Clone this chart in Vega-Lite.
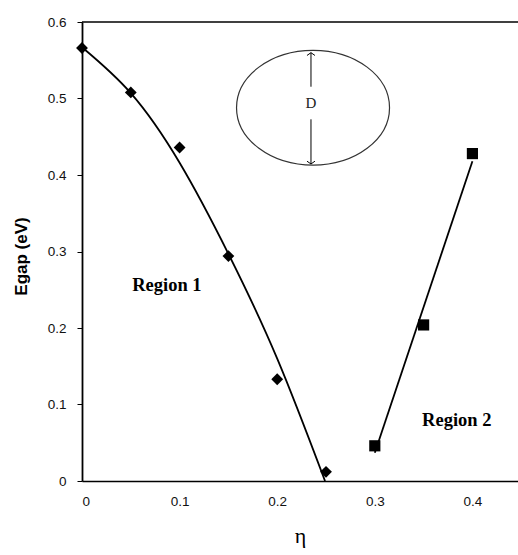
{
  "$schema": "https://vega.github.io/schema/vega-lite/v6.json",
  "width": 436,
  "height": 459,
  "autosize": {"type": "none"},
  "padding": {"left": 82, "top": 22, "right": 0, "bottom": 74},
  "background": "white",
  "config": {"view": {"stroke": null}},
  "datasets": {
    "border": [{"x": 0, "x2": 0.4467, "y": 0.6}],
    "curve1": [
      {"x": 0, "y": 0.567},
      {"x": 0.05, "y": 0.507},
      {"x": 0.1, "y": 0.416},
      {"x": 0.15, "y": 0.297},
      {"x": 0.2, "y": 0.16},
      {"x": 0.249, "y": 0.0}
    ],
    "line2": [{"x": 0.3, "y": 0.037}, {"x": 0.4, "y": 0.418}],
    "region1": [
      {"x": 0, "y": 0.566},
      {"x": 0.05, "y": 0.508},
      {"x": 0.1, "y": 0.436},
      {"x": 0.15, "y": 0.294},
      {"x": 0.2, "y": 0.133},
      {"x": 0.25, "y": 0.012}
    ],
    "region2": [
      {"x": 0.3, "y": 0.046},
      {"x": 0.35, "y": 0.204},
      {"x": 0.4, "y": 0.428}
    ],
    "ellipse": [{"x": 0.2367, "y": 0.488}],
    "arrow": [
      {"x": 0.2346, "y": 0.5599, "y2": 0.5154},
      {"x": 0.2346, "y": 0.4728, "y2": 0.4144}
    ],
    "headUp": [{"x": 0.2346, "y": 0.5599}],
    "headDown": [{"x": 0.2346, "y": 0.4144}],
    "dlabel": [{"x": 0.2346, "y": 0.494, "label": "D"}],
    "regions": [
      {"x": 0.087, "y": 0.256, "label": "Region 1"},
      {"x": 0.384, "y": 0.080, "label": "Region 2"}
    ]
  },
  "encoding": {
    "x": {
      "field": "x",
      "type": "quantitative",
      "scale": {"domain": [0, 0.4467], "nice": false, "zero": false},
      "axis": {
        "title": "η",
        "values": [0, 0.1, 0.2, 0.3, 0.4],
        "labelExpr": "datum.value == 0 ? '0' : format(datum.value, '.1f')",
        "ticks": false,
        "grid": false,
        "domainColor": "#000",
        "domainWidth": 1.5,
        "labelFont": "Liberation Sans",
        "labelFontSize": 13.5,
        "labelColor": "#111",
        "labelPadding": 13,
        "titleFont": "Liberation Serif",
        "titleFontSize": 22,
        "titleFontWeight": "normal",
        "titleColor": "#000",
        "titlePadding": 18
      }
    },
    "y": {
      "field": "y",
      "type": "quantitative",
      "scale": {"domain": [0, 0.6], "nice": false, "zero": false},
      "axis": {
        "title": "Egap (eV)",
        "values": [0, 0.1, 0.2, 0.3, 0.4, 0.5, 0.6],
        "labelExpr": "datum.value == 0 ? '0' : format(datum.value, '.1f')",
        "grid": false,
        "tickSize": 5,
        "tickColor": "#000",
        "tickWidth": 1,
        "domainColor": "#000",
        "domainWidth": 1.8,
        "labelFont": "Liberation Sans",
        "labelFontSize": 13.5,
        "labelColor": "#111",
        "labelPadding": 11,
        "titleFont": "Liberation Sans",
        "titleFontSize": 17,
        "titleFontWeight": "bold",
        "titleColor": "#000",
        "titleX": -61,
        "titleY": 234,
        "titleBaseline": "middle",
        "titleAlign": "center"
      }
    }
  },
  "layer": [
    {
      "data": {"name": "border"},
      "mark": {"type": "rule", "color": "#000", "strokeWidth": 1.5},
      "encoding": {"x2": {"field": "x2"}}
    },
    {
      "data": {"name": "curve1"},
      "mark": {"type": "line", "color": "#000", "strokeWidth": 1.8, "interpolate": "natural"},
      "encoding": {}
    },
    {
      "data": {"name": "line2"},
      "mark": {"type": "line", "color": "#000", "strokeWidth": 1.8},
      "encoding": {}
    },
    {
      "data": {"name": "region1"},
      "mark": {"type": "point", "shape": "diamond", "filled": true, "color": "#000", "size": 140, "opacity": 1}
    },
    {
      "data": {"name": "region2"},
      "mark": {"type": "point", "shape": "square", "filled": true, "color": "#000", "size": 125, "opacity": 1}
    },
    {
      "data": {"name": "ellipse"},
      "mark": {
        "type": "point",
        "shape": "M-1,0 C-1,-0.4142 -0.5523,-0.75 0,-0.75 C0.5523,-0.75 1,-0.4142 1,0 C1,0.4142 0.5523,0.75 0,0.75 C-0.5523,0.75 -1,0.4142 -1,0 Z",
        "filled": false,
        "stroke": "#333",
        "strokeWidth": 1.2,
        "size": 23409,
        "opacity": 1
      }
    },
    {
      "data": {"name": "arrow"},
      "mark": {"type": "rule", "color": "#000", "strokeWidth": 1},
      "encoding": {"y2": {"field": "y2"}}
    },
    {
      "data": {"name": "headUp"},
      "mark": {"type": "point", "shape": "M-1,0.7 L0,0 L1,0.7", "filled": false, "stroke": "#000", "strokeWidth": 1, "size": 64, "opacity": 1}
    },
    {
      "data": {"name": "headDown"},
      "mark": {"type": "point", "shape": "M-1,-0.7 L0,0 L1,-0.7", "filled": false, "stroke": "#000", "strokeWidth": 1, "size": 64, "opacity": 1}
    },
    {
      "data": {"name": "dlabel"},
      "mark": {"type": "text", "font": "Liberation Serif", "fontSize": 15, "color": "#222", "align": "center", "baseline": "middle"},
      "encoding": {"text": {"field": "label"}}
    },
    {
      "data": {"name": "regions"},
      "mark": {"type": "text", "font": "Liberation Serif", "fontSize": 18.5, "fontWeight": "bold", "color": "#000", "align": "center", "baseline": "middle"},
      "encoding": {"text": {"field": "label"}}
    }
  ]
}
